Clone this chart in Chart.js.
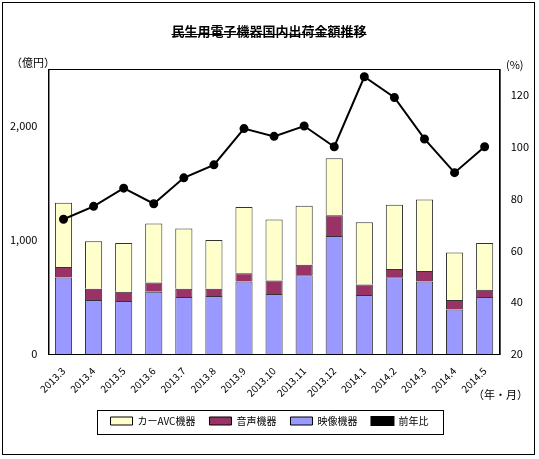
<!DOCTYPE html>
<html><head><meta charset="utf-8">
<script src="https://cdn.jsdelivr.net/npm/chart.js@4"></script>
<style>body{margin:0;background:#fff}#w{position:absolute;left:2px;top:2px;width:533px;height:453px;border:1px solid #000;box-sizing:border-box}</style>
</head><body><div id="w"><canvas id="c" width="533" height="453"></canvas></div>
<script>
const categories=['2013.3','2013.4','2013.5','2013.6','2013.7','2013.8','2013.9','2013.10','2013.11','2013.12','2014.1','2014.2','2014.3','2014.4','2014.5'];
const video=[670,473,464,545,500,509,636,527,691,1036,518,673,636,391,500];
const audio=[94,100,81,82,73,64,73,118,91,182,91,72,91,82,64];
const carAVC=[563,417,428,518,527,427,581,535,518,500,546,564,628,418,409];
const yoy=[72,77,84,78,88,93,107,104,108,100,127,119,103,90,100];
const leftTicks=[0,1000,2000];
const rightTicks=[20,40,60,80,100,120];
const F='"MS PGothic","Noto Sans CJK JP",sans-serif';
const deco={id:'deco',afterDraw(ch){const c=ch.ctx,a=ch.chartArea;c.save();c.strokeStyle='#000';c.lineWidth=1;
c.strokeRect(a.left+.5,a.top+.5,a.right-a.left,a.bottom-a.top);
const hb=ch.legend.legendHitBoxes;if(hb&&hb.length){const x0=hb[0].left-14,x1=hb[hb.length-1].left+hb[hb.length-1].width+14,y0=hb[0].top-6;c.strokeRect(Math.round(x0)+.5,Math.round(y0)+.5,Math.round(x1-x0),24);}
c.fillStyle='#000';c.font='bold 13px '+F;c.textAlign='center';c.fillText('民生用電子機器国内出荷金額推移',266,28);
const tw=c.measureText('民生用電子機器国内出荷金額推移').width;c.fillRect(266-tw/2,31,tw,1);
c.font='11px '+F;c.textAlign='left';c.fillText('（億円）',8,60);c.fillText('(%)',503,62);c.fillText('（年・月）',470,392);c.restore();}};
new Chart(document.getElementById('c'),{type:'bar',data:{labels:categories,datasets:[
{type:'line',label:'前年比',data:yoy,yAxisID:'y2',borderColor:'#000',backgroundColor:'#000',borderWidth:2,pointRadius:3.5,order:0},
{label:'映像機器',data:video,backgroundColor:'#9999ff',borderColor:'#333',borderWidth:1,stack:'s',order:1},
{label:'音声機器',data:audio,backgroundColor:'#993366',borderColor:'#333',borderWidth:1,stack:'s',order:1},
{label:'カーAVC機器',data:carAVC,backgroundColor:'#ffffcc',borderColor:'#333',borderWidth:1,stack:'s',order:1}]},
options:{responsive:false,animation:false,layout:{padding:{top:66,left:4,right:4,bottom:20}},
datasets:{bar:{categoryPercentage:0.95,barPercentage:0.6}},
plugins:{legend:{position:'bottom',labels:{font:{size:10,family:F},color:'#000',boxWidth:22,boxHeight:8,padding:14,
generateLabels(ch){return ch.data.datasets.map((d,i)=>({text:d.label,fillStyle:d.backgroundColor,strokeStyle:'#000',lineWidth:d.type==='line'?2:1,datasetIndex:i})).reverse();}}},tooltip:{enabled:false}},
scales:{x:{stacked:true,grid:{display:false},ticks:{maxRotation:45,minRotation:45,color:'#000',font:{size:10,family:F}}},
y:{stacked:true,min:0,max:2500,grid:{display:false},border:{color:'#000'},afterBuildTicks:s=>{s.ticks=leftTicks.map(v=>({value:v}));},ticks:{color:'#000',font:{size:11,family:F},callback:v=>v.toLocaleString('en-US')}},
y2:{position:'right',min:20,max:130,grid:{display:false},border:{color:'#000'},afterBuildTicks:s=>{s.ticks=rightTicks.map(v=>({value:v}));},ticks:{color:'#000',font:{size:11,family:F}}}}},
plugins:[deco]});
</script></body></html>
